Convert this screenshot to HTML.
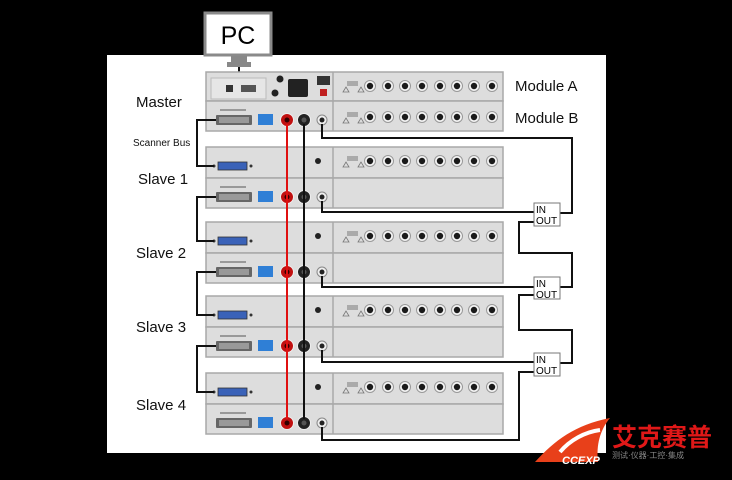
<!DOCTYPE html>
<html><head><meta charset="utf-8"><style>
html,body{margin:0;padding:0;background:#000;}
svg{display:block;}
</style></head><body>
<svg width="732" height="480" viewBox="0 0 732 480" xmlns="http://www.w3.org/2000/svg" font-family="Liberation Sans, sans-serif">
<defs>
<g id="j"><circle r="5.5" fill="#f4f4f4" stroke="#999" stroke-width="1"/><circle r="3.2" fill="#1a1a1a"/></g>
<g id="jacks">
 <use href="#j" x="370"/><use href="#j" x="388"/><use href="#j" x="405"/><use href="#j" x="422"/>
 <use href="#j" x="440"/><use href="#j" x="457"/><use href="#j" x="474"/><use href="#j" x="492"/>
 <g fill="none" stroke="#777" stroke-width="0.8"><path d="M343 6 l3 -5 l3 5z M358 6 l3 -5 l3 5z"/></g>
 <rect x="347" y="-5" width="11" height="5" fill="#aaa"/>
</g>
<g id="bot">
 <rect x="206" y="0" width="297" height="30" fill="#dddddd" stroke="#a8a8a8" stroke-width="1.5"/>
 <line x1="333" y1="0" x2="333" y2="30" stroke="#a8a8a8" stroke-width="1.5"/>
 <rect x="216" y="14" width="36" height="10" rx="1" fill="#666"/>
 <rect x="219" y="16" width="30" height="6" fill="#999"/>
 <rect x="258" y="13" width="15" height="11" fill="#2f7fd6"/>
 <rect x="220" y="8" width="26" height="2" fill="#999"/>
 <circle cx="287" cy="19" r="6.5" fill="#c01010" stroke="#eee" stroke-width="1"/><circle cx="287" cy="19" r="2.5" fill="#300"/>
 <circle cx="304" cy="19" r="6.5" fill="#222" stroke="#eee" stroke-width="1"/><circle cx="304" cy="19" r="2.5" fill="#555"/>
 <circle cx="322" cy="19" r="5" fill="#eee" stroke="#888"/><circle cx="322" cy="19" r="2.5" fill="#222"/>
</g>
<g id="stop">
 <rect x="206" y="0" width="297" height="31" fill="#dddddd" stroke="#a8a8a8" stroke-width="1.5"/>
 <line x1="333" y1="0" x2="333" y2="31" stroke="#a8a8a8" stroke-width="1.5"/>
 <rect x="218" y="15" width="29" height="8" fill="#3a62b8" stroke="#333" stroke-width="0.8"/>
 <circle cx="214" cy="19" r="1.5" fill="#333"/><circle cx="251" cy="19" r="1.5" fill="#333"/>
 <circle cx="318" cy="14" r="3" fill="#222"/>
 <use href="#jacks" y="14"/>
</g>
</defs>
<rect x="107" y="55" width="499" height="398" fill="#fff"/>
<rect x="205" y="13" width="66" height="42" fill="#fff" stroke="#8a8a8a" stroke-width="3"/>
<text x="238" y="44" font-size="25" text-anchor="middle" fill="#000">PC</text>
<rect x="231" y="56" width="16" height="6" fill="#888"/>
<rect x="227" y="62" width="24" height="5" fill="#888"/>
<line x1="239" y1="67" x2="239" y2="82" stroke="#111" stroke-width="2"/>
<rect x="206" y="72" width="297" height="29" fill="#dddddd" stroke="#a8a8a8" stroke-width="1.5"/>
<line x1="333" y1="72" x2="333" y2="101" stroke="#a8a8a8" stroke-width="1.5"/>
<rect x="211" y="78" width="55" height="21" fill="#e6e6e6" stroke="#bbb"/>
<rect x="226" y="85" width="7" height="7" fill="#333"/>
<rect x="241" y="85" width="15" height="7" fill="#555"/>
<rect x="288" y="79" width="20" height="18" rx="2" fill="#222"/>
<circle cx="280" cy="79" r="3.5" fill="#222"/><circle cx="275" cy="93" r="3.5" fill="#222"/>
<rect x="317" y="76" width="13" height="9" fill="#333"/>
<rect x="320" y="89" width="7" height="7" fill="#c02020"/>
<use href="#jacks" y="86"/>
<use href="#bot" y="101"/>
<use href="#jacks" y="117"/>
<use href="#stop" y="147"/><use href="#bot" y="178"/>
<use href="#stop" y="222"/><use href="#bot" y="253"/>
<use href="#stop" y="296"/><use href="#bot" y="327"/>
<use href="#stop" y="373"/><use href="#bot" y="404"/>
<line x1="287" y1="124" x2="287" y2="419" stroke="#e01010" stroke-width="2"/>
<line x1="304" y1="124" x2="304" y2="419" stroke="#111" stroke-width="2"/>
<g fill="none" stroke="#111" stroke-width="2">
<path d="M216 120 H197 V166 H214"/>
<path d="M216 197 H197 V241 H214"/>
<path d="M216 272 H197 V315 H214"/>
<path d="M216 346 H197 V392 H214"/>
<path d="M322 124 V138 H572 V213 H560"/>
<path d="M322 201 V212 H534"/>
<path d="M534 222 H519 V253 H572 V287 H560"/>
<path d="M322 276 V287 H534"/>
<path d="M534 295 H519 V330 H572 V363 H560"/>
<path d="M322 350 V362 H534"/>
<path d="M534 372 H519 V440 H322 V427"/>
</g>
<g fill="#fff" stroke="#777" stroke-width="1">
<rect x="534" y="203" width="26" height="23"/>
<rect x="534" y="277" width="26" height="22"/>
<rect x="534" y="353" width="26" height="23"/>
</g>
<g font-size="10" fill="#000">
<text x="536" y="213">IN</text><text x="536" y="224">OUT</text>
<text x="536" y="287">IN</text><text x="536" y="298">OUT</text>
<text x="536" y="363">IN</text><text x="536" y="374">OUT</text>
</g>
<g font-size="15" fill="#111">
<text x="136" y="107">Master</text>
<text x="138" y="184">Slave 1</text>
<text x="136" y="258">Slave 2</text>
<text x="136" y="332">Slave 3</text>
<text x="136" y="410">Slave 4</text>
<text x="515" y="91">Module A</text>
<text x="515" y="123">Module B</text>
</g>
<text x="133" y="146" font-size="10" fill="#111">Scanner Bus</text>
<path d="M535 462 C555 440 575 425 610 418 C600 430 596 445 598 462 Z" fill="#e8401a"/>
<path d="M560 452 C570 440 585 432 600 430" stroke="#fff" stroke-width="4" fill="none"/>
<text x="562" y="464" font-size="11" font-weight="bold" font-style="italic" fill="#fff">CCEXP</text>
<text x="612" y="446" font-size="25" font-weight="bold" fill="#e01818" font-family="Liberation Sans, Noto Sans CJK SC, sans-serif">艾克赛普</text>
<text x="612" y="458" font-size="8" fill="#888" font-family="Liberation Sans, Noto Sans CJK SC, sans-serif">测试·仪器·工控·集成</text>
</svg>
</body></html>
